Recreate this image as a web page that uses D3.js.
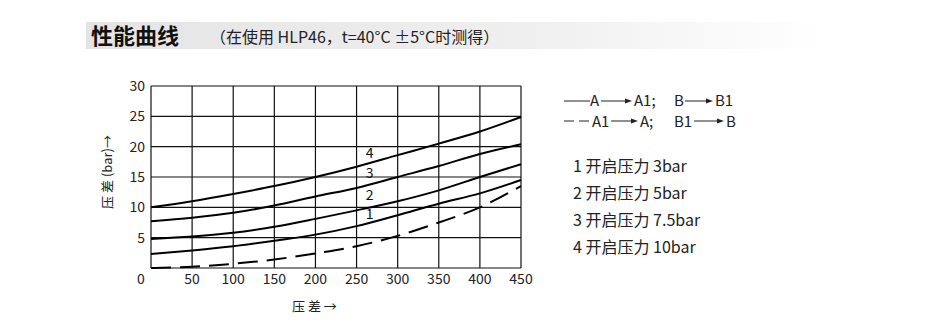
<!DOCTYPE html>
<html>
<head>
<meta charset="utf-8">
<script src="https://cdn.jsdelivr.net/npm/d3@7"></script>
<style>
  body { margin: 0; background: #fff; }
  svg { display: block; font-family: "Noto Sans CJK SC", "Noto Sans", sans-serif; }
</style>
</head>
<body>
<svg width="930" height="329"></svg>
<script>
// flow in l/min vs pressure drop in bar
const flow = [0, 50, 100, 150, 200, 250, 300, 350, 400, 450];
const curve1 = [2.3, 2.9, 3.6, 4.5, 5.5, 6.9, 8.7, 10.6, 12.3, 14.5];
const curve2 = [4.8, 5.2, 5.8, 6.8, 8.1, 9.5, 11.0, 12.8, 15.0, 17.1];
const curve3 = [7.7, 8.3, 9.1, 10.3, 11.8, 13.2, 15.0, 16.8, 18.8, 20.4];
const curve4 = [10.0, 11.0, 12.2, 13.5, 15.0, 16.7, 18.6, 20.5, 22.5, 24.9];
const reverse = [0, 0.2, 0.7, 1.4, 2.4, 3.6, 5.3, 7.5, 10.0, 13.5];
const curveLabels = ['1', '2', '3', '4'];
const xTicks = [50, 100, 150, 200, 250, 300, 350, 400, 450];
const yTicks = [5, 10, 15, 20, 25, 30];
const legendItems = ['1 开启压力 3bar', '2 开启压力 5bar', '3 开启压力 7.5bar', '4 开启压力 10bar'];

const svg = d3.select('svg');

// title bar
const grad = svg.append('defs').append('linearGradient')
  .attr('id', 'titlebg');
grad.append('stop').attr('offset', '0%').attr('stop-color', '#e4e4e4');
grad.append('stop').attr('offset', '60%').attr('stop-color', '#efefef');
grad.append('stop').attr('offset', '100%').attr('stop-color', '#ffffff');
svg.append('rect')
  .attr('x', 86).attr('y', 22).attr('width', 737).attr('height', 27)
  .attr('fill', 'url(#titlebg)');
svg.append('text')
  .attr('x', 91).attr('y', 44)
  .attr('font-size', 22).attr('font-weight', 700).attr('fill', '#111')
  .text('性能曲线');
svg.append('text')
  .attr('x', 210).attr('y', 43)
  .attr('font-size', 16).attr('fill', '#222')
  .text('（在使用 HLP46，t=40°C ±5°C时测得）');

// chart
const x = d3.scaleLinear().domain([0, 450]).range([151, 521]);
const y = d3.scaleLinear().domain([0, 30]).range([268, 86]);

const g = svg.append('g');

g.selectAll('line.vg')
  .data(xTicks)
  .enter()
  .append('line')
    .attr('x1', (d) => x(d)).attr('x2', (d) => x(d))
    .attr('y1', y(0)).attr('y2', y(30))
    .attr('stroke', '#111').attr('stroke-width', 1.2);

g.selectAll('line.hg')
  .data(yTicks)
  .enter()
  .append('line')
    .attr('x1', x(0)).attr('x2', x(450))
    .attr('y1', (d) => y(d)).attr('y2', (d) => y(d))
    .attr('stroke', '#111').attr('stroke-width', 1.2);

g.append('line')
  .attr('x1', x(0)).attr('x2', x(0))
  .attr('y1', y(0)).attr('y2', y(30))
  .attr('stroke', '#111').attr('stroke-width', 1.2);
g.append('line')
  .attr('x1', x(0)).attr('x2', x(450))
  .attr('y1', y(0)).attr('y2', y(0))
  .attr('stroke', '#111').attr('stroke-width', 1.2);

// tick labels
g.selectAll('text.xt')
  .data(xTicks)
  .enter()
  .append('text')
    .attr('x', (d) => x(d)).attr('y', 284)
    .attr('text-anchor', 'middle')
    .attr('font-size', 14).attr('fill', '#222')
    .text((d) => d);

g.selectAll('text.yt')
  .data(yTicks)
  .enter()
  .append('text')
    .attr('x', 145).attr('y', (d) => y(d) + 5)
    .attr('text-anchor', 'end')
    .attr('font-size', 14).attr('fill', '#222')
    .text((d) => d);

g.append('text')
  .attr('x', 141).attr('y', 284)
  .attr('text-anchor', 'middle')
  .attr('font-size', 14).attr('fill', '#222')
  .text('0');

// axis titles
svg.append('text')
  .attr('transform', 'translate(112,172) rotate(-90)')
  .attr('text-anchor', 'middle')
  .attr('font-size', 13).attr('fill', '#222')
  .text('压 差 (bar)→');
svg.append('text')
  .attr('x', 292).attr('y', 311)
  .attr('font-size', 13).attr('fill', '#222')
  .text('压 差 →');

// curves
const curves = [curve1, curve2, curve3, curve4];
const line = d3.line()
  .x((d, i) => x(flow[i]))
  .y((d) => y(d))
  .curve(d3.curveMonotoneX);

curves.forEach((c) => {
  g.append('path')
    .attr('d', line(c))
    .attr('fill', 'none')
    .attr('stroke', '#000')
    .attr('stroke-width', 2);
});

g.append('path')
  .attr('d', line(reverse))
  .attr('fill', 'none')
  .attr('stroke', '#000')
  .attr('stroke-width', 2)
  .attr('stroke-dasharray', '20,9');

// curve numbers sit between neighbouring curves near 266
const labelAt = 266;
const valAt = (c) => d3.interpolateNumber(c[5], c[6])((labelAt - 250) / 50);
curves.forEach((c, i) => {
  const yc = y(valAt(c));
  const ymid = i < 3 ? (yc + y(valAt(curves[i + 1]))) / 2 - 1 : yc - 10;
  g.append('text')
    .attr('x', x(labelAt)).attr('y', ymid)
    .attr('dy', '0.36em')
    .attr('text-anchor', 'middle')
    .attr('font-size', 14).attr('fill', '#111')
    .text(curveLabels[i]);
});

// flow direction legend
const lg = svg.append('g').attr('font-size', 15).attr('fill', '#222');
const arrow = (x1, x2, yy) => {
  lg.append('line')
    .attr('x1', x1).attr('x2', x2 - 5).attr('y1', yy).attr('y2', yy)
    .attr('stroke', '#222').attr('stroke-width', 1);
  lg.append('path')
    .attr('d', `M${x2},${yy} L${x2 - 7},${yy - 2.5} L${x2 - 7},${yy + 2.5} Z`)
    .attr('fill', '#222');
};

// row 1 (solid)
lg.append('line')
  .attr('x1', 564).attr('x2', 590).attr('y1', 101).attr('y2', 101)
  .attr('stroke', '#222').attr('stroke-width', 1);
lg.append('text').attr('x', 590).attr('y', 106).text('A');
arrow(601, 632, 101);
lg.append('text').attr('x', 634).attr('y', 106).text('A1;');
lg.append('text').attr('x', 674).attr('y', 106).text('B');
arrow(685, 713, 101);
lg.append('text').attr('x', 715).attr('y', 106).text('B1');

// row 2 (dashed)
lg.append('line')
  .attr('x1', 564).attr('x2', 592).attr('y1', 121).attr('y2', 121)
  .attr('stroke', '#222').attr('stroke-width', 1)
  .attr('stroke-dasharray', '10,5');
lg.append('text').attr('x', 592).attr('y', 127).text('A1');
arrow(611, 638, 121);
lg.append('text').attr('x', 640).attr('y', 127).text('A;');
lg.append('text').attr('x', 674).attr('y', 127).text('B1');
arrow(694, 724, 121);
lg.append('text').attr('x', 726).attr('y', 127).text('B');

// opening pressure legend
svg.append('g')
  .selectAll('text')
  .data(legendItems)
  .enter()
  .append('text')
    .attr('x', 573)
    .attr('y', (d, i) => 172 + i * 27)
    .attr('font-size', 16).attr('fill', '#222')
    .text((d) => d);
</script>
</body>
</html>
